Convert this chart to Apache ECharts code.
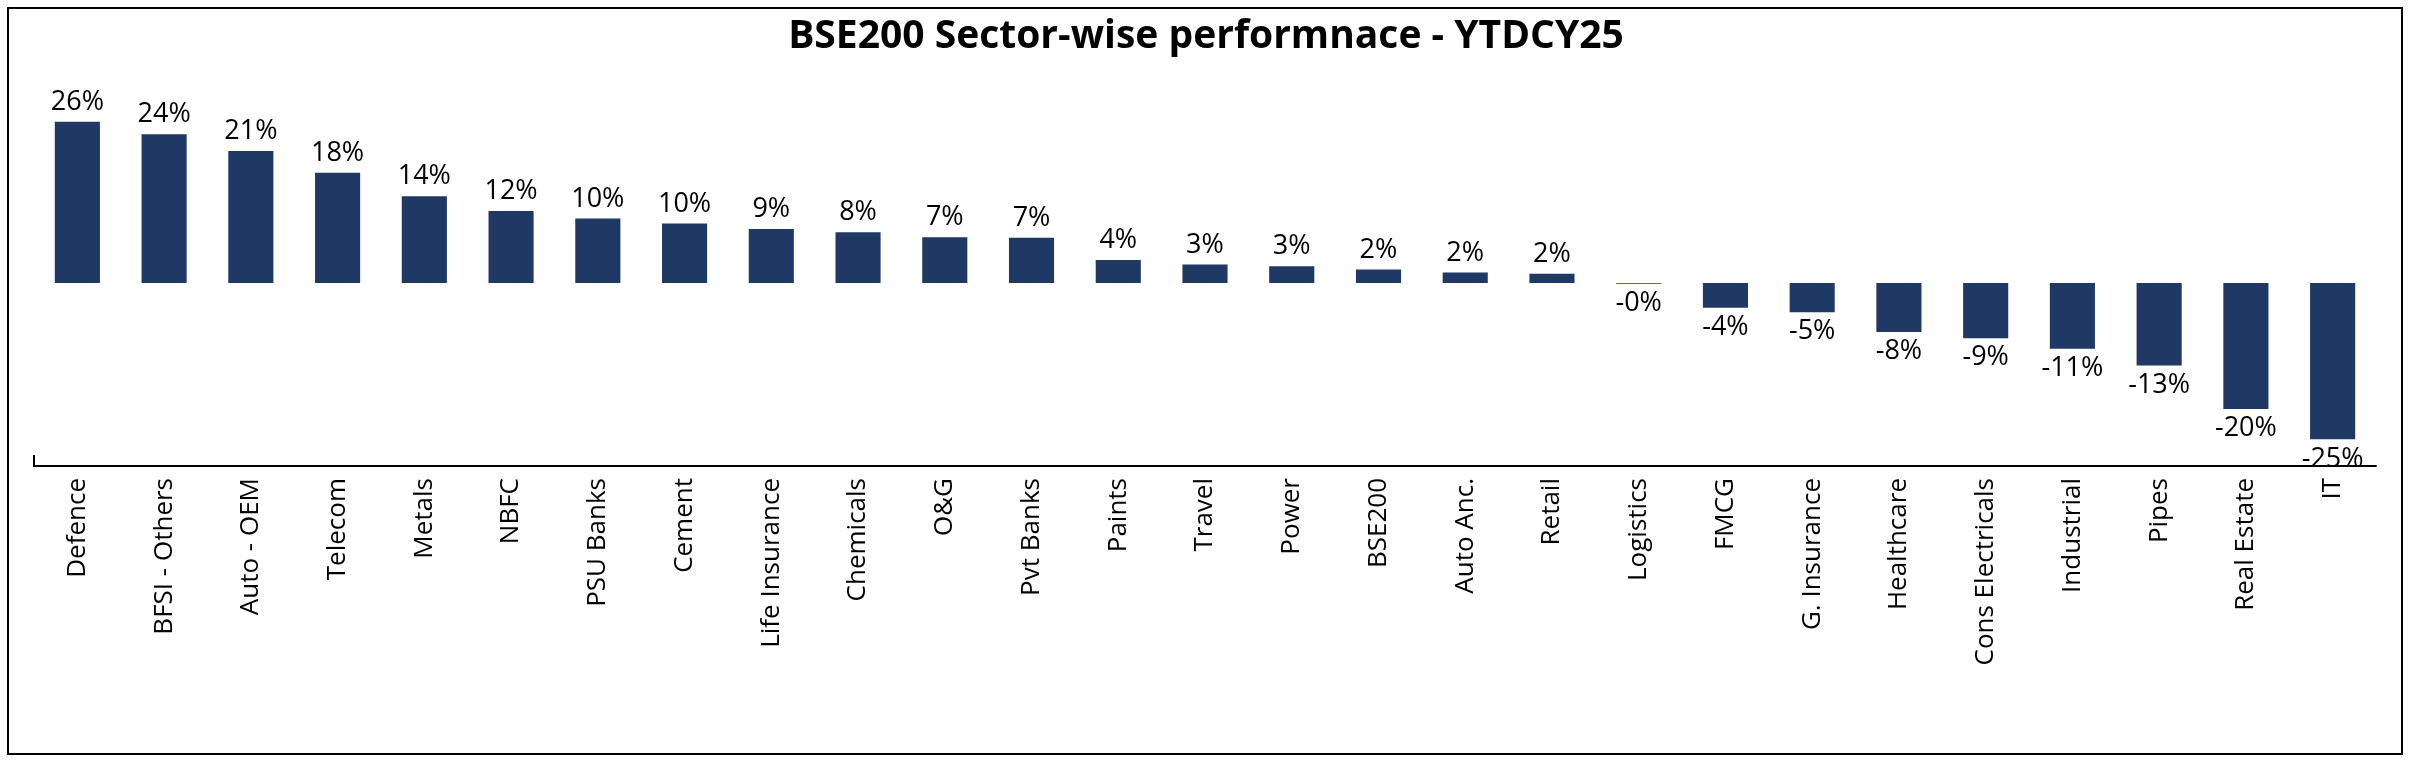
<!DOCTYPE html>
<html>
<head>
<meta charset="utf-8">
<script src="https://cdn.jsdelivr.net/npm/echarts@6/dist/echarts.min.js"></script>
<style>
  html, body { margin: 0; padding: 0; background: #fff; }
  #wrap { position: absolute; left: 7px; top: 7px; width: 2396px; height: 748px; border: 2px solid #000; box-sizing: border-box; }
  #chart { position: absolute; left: 0; top: 0; width: 2412px; height: 764px; }
</style>
</head>
<body>
<div id="wrap"></div>
<div id="chart"></div>
<script>
var sectors = ["Defence", "BFSI - Others", "Auto - OEM", "Telecom", "Metals", "NBFC", "PSU Banks", "Cement",
    "Life Insurance", "Chemicals", "O&G", "Pvt Banks", "Paints", "Travel", "Power", "BSE200", "Auto Anc.",
    "Retail", "Logistics", "FMCG", "G. Insurance", "Healthcare", "Cons Electricals", "Industrial", "Pipes",
    "Real Estate", "IT"];
var returns = [26, 24, 21.3, 17.8, 14, 11.6, 10.4, 9.6, 8.7, 8.2, 7.4, 7.3, 3.7, 3, 2.7, 2.2, 1.7, 1.5,
    -0.1, -4, -4.7, -7.9, -8.9, -10.6, -13.3, -20.3, -25.2];

var myChart = echarts.init(document.getElementById("chart"));

var options = {
    animation: false,
    title: {
        text: "BSE200 Sector-wise performnace - YTDCY25",
        left: "center",
        top: 12,
        textStyle: { fontFamily: "Open Sans", fontWeight: "bold", fontSize: 39, color: "#000" }
    },
    grid: { left: 34, right: 36, top: 97, bottom: 298 },
    xAxis: {
        type: "category",
        data: sectors,
        axisLine: { onZero: false, lineStyle: { color: "#000", width: 2 } },
        axisTick: { show: false },
        axisLabel: { rotate: 90, color: "#000", fontSize: 26, fontFamily: "Open Sans", interval: 0, margin: 12 }
    },
    yAxis: {
        type: "value",
        min: -29.5,
        max: 30,
        show: false,
        splitLine: { show: false }
    },
    series: [
        {
            type: "bar",
            data: returns.map(function (v) {
                // negative values get their label below the bar
                return v < 0 ? { value: v, label: { position: "bottom" } } : v;
            }),
            barWidth: "52%",
            itemStyle: { color: "#1f3864" },
            label: {
                show: true,
                position: "top",
                distance: 6,
                fontSize: 27,
                fontFamily: "Open Sans",
                color: "#000",
                formatter: function (p) {
                    var v = Math.round(p.value);
                    if (v === 0 && p.value < 0) return "-0%";
                    return v + "%";
                }
            }
        }
    ],
    graphic: [
        { type: "line", shape: { x1: 34, y1: 455, x2: 34, y2: 467 }, style: { stroke: "#000", lineWidth: 2 } }
    ]
};

myChart.setOption(options);
</script>
</body>
</html>
